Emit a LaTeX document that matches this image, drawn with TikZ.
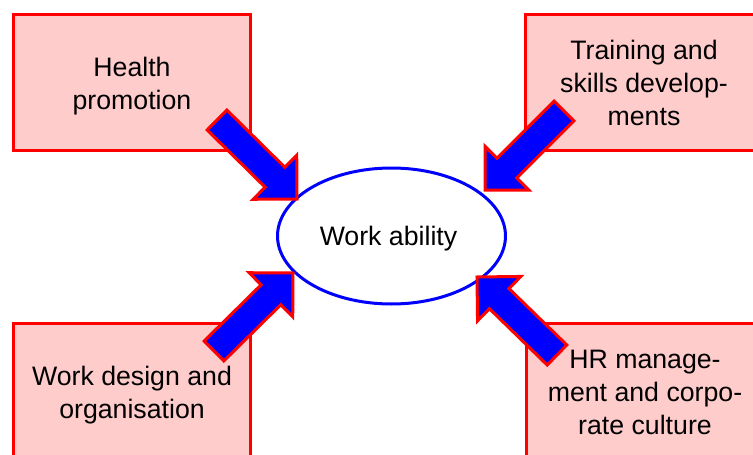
\documentclass[tikz,border=0pt]{standalone}
\usepackage{fontspec}
\setmainfont{Liberation Sans}
\usetikzlibrary{calc,shapes.geometric}
\definecolor{boxpink}{RGB}{255,204,204}
\definecolor{boxred}{RGB}{255,0,0}
\definecolor{ellblue}{RGB}{0,0,255}
\tikzset{
  infobox/.style={draw=boxred, fill=boxpink, line width=3pt, minimum width=237pt,
    minimum height=136pt, inner sep=0pt, align=center,
    font=\fontsize{26.7}{33}\selectfont},
  centrebox/.style={ellipse, draw=ellblue, fill=white, line width=3pt, minimum width=228pt,
    minimum height=136pt, inner sep=0pt, font=\fontsize{26.7}{33}\selectfont},
  blockarrow/.style={draw=boxred, fill=ellblue, line width=3pt, line join=miter}
}
\newcommand{\boxtext}[1]{\raisebox{-3.5pt}[\height][\depth]{\begin{tabular}{@{}c@{}}#1\end{tabular}}}
\newcommand{\blockarr}[2]{%
  \coordinate (#1c) at ($(#2)!31pt!(#1)$);
  \draw[blockarrow] ($(#1)!14pt!90:(#2)$) -- ($(#1c)!14pt!90:(#2)$)
    -- ($(#1c)!31pt!90:(#2)$) -- (#2) -- ($(#1c)!31pt!-90:(#2)$)
    -- ($(#1c)!14pt!-90:(#2)$) -- ($(#1)!14pt!-90:(#2)$) -- cycle;}
\begin{document}
\begin{tikzpicture}[x=1pt,y=-1pt]
  \useasboundingbox (0,0) rectangle (753,455);
  \clip (0,0) rectangle (753,455);
  \fill[white] (0,0) rectangle (753,455);
  \node[infobox] (hp) at (132,82.5) {\boxtext{Health\\promotion}};
  \node[infobox] (ts) at (644,82.5) {\boxtext{Training and\\skills develop-\\ments}};
  \node[infobox] (wd) at (132,391.5) {\boxtext{Work design and\\organisation}};
  \node[infobox] (hr) at (645,391.5) {\boxtext{HR manage-\\ment and corpo-\\rate culture}};
  \node[centrebox] (wa) at (391.5,236) {\raisebox{-3pt}[\height][\depth]{\hspace*{-6pt}Work ability}};
  \coordinate (tla) at (217,120);  \coordinate (tlb) at (297,199);
  \coordinate (tra) at (564,111);  \coordinate (trb) at (485,190);
  \coordinate (bla) at (214,351);  \coordinate (blb) at (293,273);
  \coordinate (bra) at (557,355);  \coordinate (brb) at (477,277);
  \blockarr{tla}{tlb}
  \blockarr{tra}{trb}
  \blockarr{bla}{blb}
  \blockarr{bra}{brb}
\end{tikzpicture}
\end{document}
